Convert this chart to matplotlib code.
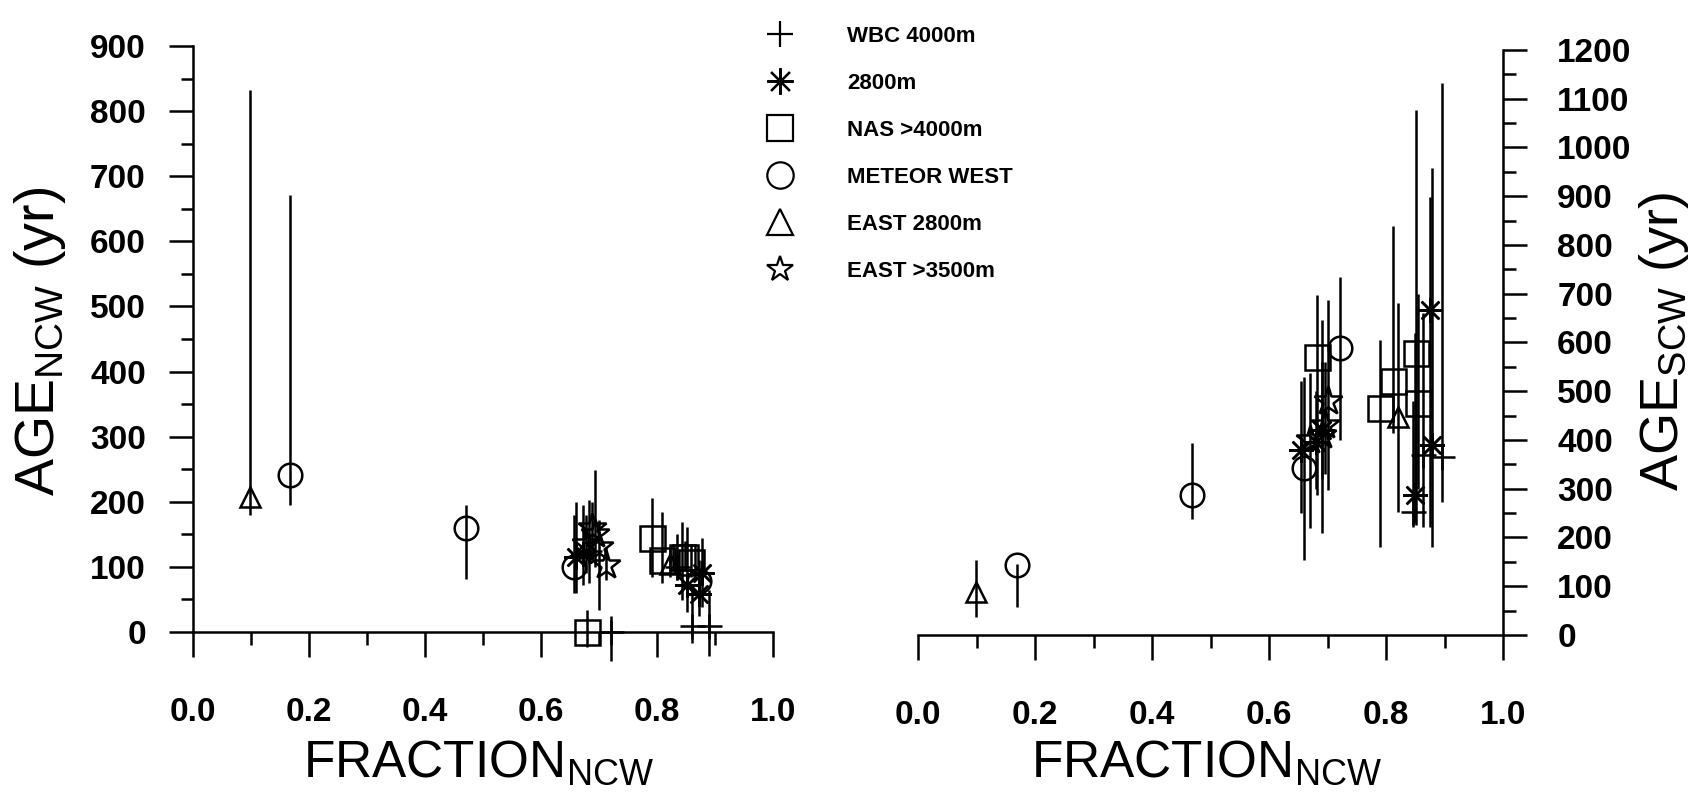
import matplotlib
matplotlib.use("Agg")
import matplotlib.pyplot as plt
from matplotlib.lines import Line2D
from matplotlib.ticker import MultipleLocator, FixedFormatter, FixedLocator

plt.rcParams['font.family'] = ['Liberation Sans', 'DejaVu Sans']
plt.rcParams['mathtext.fontset'] = 'custom'
plt.rcParams['mathtext.rm'] = 'Liberation Sans'

series_names = ["WBC 4000m", "2800m", "NAS >4000m", "METEOR WEST",
                "EAST 2800m", "EAST >3500m"]

# rows: (fraction NCW, age, lower end of bar, upper end of bar)
wbc_ncw = [(0.682, 125, 75, 203), (0.72, 0, -45, 25), (0.835, 100, 80, 150),
           (0.86, 10, -17, 64), (0.89, 10, -37, 64)]
ast_ncw = [(0.661, 115, 60, 200), (0.673, 120, 72, 195), (0.851, 72, 31, 162),
           (0.878, 90, 39, 144), (0.872, 58, 25, 95)]
nas_ncw = [(0.68, 0, -23, 34), (0.791, 144, 85, 206), (0.808, 110, 76, 185),
           (0.843, 115, 49, 169), (0.848, 115, 95, 140), (0.858, 108, 85, 135)]
met_ncw = [(0.167, 241, 195, 671), (0.471, 160, 82, 195), (0.657, 100, 60, 180),
           (0.872, 78, 50, 110)]
e28_ncw = [(0.098, 207, 180, 832), (0.822, 105, 85, 130)]
e35_ncw = [(0.688, 160, 110, 200), (0.693, 150, 100, 249), (0.70, 130, 34, 172),
           (0.678, 135, 90, 180), (0.712, 103, 80, 130)]

wbc_scw = [(0.847, 252, 222, 480), (0.864, 370, 222, 660), (0.895, 366, 273, 1132)]
ast_scw = [(0.655, 380, 250, 520), (0.680, 395, 300, 500), (0.690, 420, 320, 560),
           (0.850, 287, 230, 620), (0.875, 667, 222, 899), (0.878, 390, 181, 958)]
nas_scw = [(0.682, 571, 287, 697), (0.790, 465, 181, 605), (0.812, 520, 414, 838),
           (0.852, 578, 226, 1077), (0.855, 475, 300, 700)]
met_scw = [(0.169, 143, 57, 145), (0.468, 287, 238, 394), (0.659, 342, 154, 530),
           (0.721, 588, 400, 735)]
e28_scw = [(0.099, 88, 37, 154), (0.821, 448, 253, 681)]
e35_scw = [(0.670, 400, 219, 537), (0.690, 410, 209, 646), (0.701, 480, 297, 687),
           (0.695, 430, 330, 560)]

ncw_sets = [wbc_ncw, ast_ncw, nas_ncw, met_ncw, e28_ncw, e35_ncw]
scw_sets = [wbc_scw, ast_scw, nas_scw, met_scw, e28_scw, e35_scw]

x_ticks = [0.0, 0.2, 0.4, 0.6, 0.8, 1.0]
x_labels = ["0.0", "0.2", "0.4", "0.6", "0.8", "1.0"]

markers = ['+', (8, 2, 0), 's', 'o', '^', '*']
msizes = [18, 18, 18, 17, 15, 21]
LW = 1.8
TICK_SIZE = 24


def draw(ax, sets):
    for rows, mk, ms in zip(sets, markers, msizes):
        xs = [r[0] for r in rows]
        ys = [r[1] for r in rows]
        lo = [r[1] - r[2] for r in rows]
        hi = [r[3] - r[1] for r in rows]
        eb = ax.errorbar(xs, ys, yerr=[lo, hi], fmt='none', ecolor='black',
                         elinewidth=LW, capsize=0)
        for c in eb.lines[2]:
            c.set_clip_on(False)
        ax.plot(xs, ys, linestyle='none', marker=mk, markersize=ms,
                markerfacecolor='none', markeredgecolor='black',
                markeredgewidth=LW, clip_on=False)


def style_x(ax):
    ax.set_xlim(0, 1)
    ax.xaxis.set_major_locator(FixedLocator(x_ticks))
    ax.xaxis.set_major_formatter(FixedFormatter(x_labels))
    ax.xaxis.set_minor_locator(MultipleLocator(0.1))
    ax.tick_params(axis='x', which='major', direction='out', length=18,
                   width=LW, pad=29)
    ax.tick_params(axis='x', which='minor', direction='out', length=9, width=LW)
    for t in ax.get_xticklabels():
        t.set_fontsize(TICK_SIZE)
        t.set_fontweight('bold')


def style_y(ax, top, pad):
    ax.set_ylim(0, top)
    ax.yaxis.set_major_locator(MultipleLocator(100))
    ax.yaxis.set_minor_locator(MultipleLocator(50))
    ax.tick_params(axis='y', which='major', direction='out', length=17,
                   width=LW, pad=pad)
    ax.tick_params(axis='y', which='minor', direction='out', length=9, width=LW)
    for t in ax.get_yticklabels():
        t.set_fontsize(TICK_SIZE)
        t.set_fontweight('bold')


fig = plt.figure(figsize=(16.96, 7.98), dpi=100)
ax1 = fig.add_axes([0.1138, 0.2080, 0.3420, 0.7343])
ax2 = fig.add_axes([0.5413, 0.2043, 0.3449, 0.7331])

draw(ax1, ncw_sets)
draw(ax2, scw_sets)

# left panel: NCW age
style_y(ax1, 900, 17)
style_x(ax1)
for s in ['top', 'right']:
    ax1.spines[s].set_visible(False)
for s in ['left', 'bottom']:
    ax1.spines[s].set_linewidth(LW)

# right panel: SCW age on the right side
ax2.yaxis.tick_right()
style_y(ax2, 1200, 22)
style_x(ax2)
for s in ['top', 'left']:
    ax2.spines[s].set_visible(False)
for s in ['right', 'bottom']:
    ax2.spines[s].set_linewidth(LW)

# axis titles
fig.text(478 / 1696, 21 / 798, r'FRACTION$_{\rm NCW}$', ha='center',
         va='baseline', fontsize=37)
fig.text(1206 / 1696, 21 / 798, r'FRACTION$_{\rm NCW}$', ha='center',
         va='baseline', fontsize=37)
fig.text(40 / 1696, 0.572, r'AGE$_{\rm NCW}$ (yr)', rotation=90,
         ha='center', va='center', fontsize=40)
fig.text(1664 / 1696, 0.572, r'AGE$_{\rm SCW}$ (yr)', rotation=90,
         ha='center', va='center', fontsize=39)

# symbol key
handles = [Line2D([], [], linestyle='none', marker=mk, markersize=19,
                  markerfacecolor='none', markeredgecolor='black',
                  markeredgewidth=1.6)
           for mk in markers]
fig.legend(handles, series_names, loc='upper left',
           bbox_to_anchor=(758 / 1696, 1 - 26 / 798), frameon=False,
           prop=dict(size=16, weight='bold'), handlelength=2.0,
           handletextpad=2.0, labelspacing=1.17, borderpad=0, borderaxespad=0)

fig.savefig("out.png", dpi=100)
